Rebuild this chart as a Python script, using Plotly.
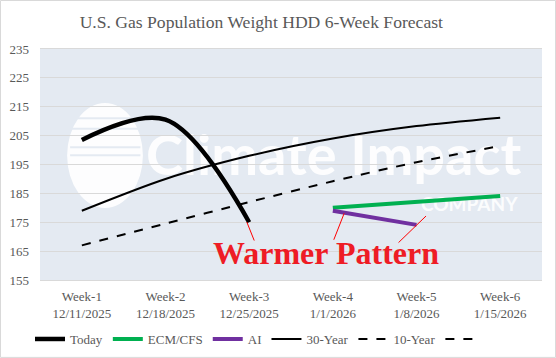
import plotly.graph_objects as go

weeks = ["Week-1", "Week-2", "Week-3", "Week-4", "Week-5", "Week-6"]
dates = ["12/11/2025", "12/18/2025", "12/25/2025", "1/1/2026", "1/8/2026", "1/15/2026"]
tick_labels = [f"{w}<br>{d}" for w, d in zip(weeks, dates)]
x_idx = list(range(len(weeks)))

today = [203.5, 210.5, 175.0, None, None, None]
ecm_cfs = [None, None, None, 180.0, 182.0, 184.1]
ai = [None, None, None, 179.0, 174.1, None]
yr30 = [179.0, 190.0, 198.0, 204.0, 208.3, 211.2]
yr10 = [167.0, 174.5, 182.0, 189.2, 195.8, 201.4]

y_ticks = list(range(155, 236, 10))

SERIF = "Liberation Serif, Times New Roman, serif"
GRAY = "#595959"
BG = "#E4EAF2"

fig = go.Figure()
fig.add_trace(go.Scatter(x=x_idx, y=today, name="Today", mode="lines",
                         line=dict(color="black", width=4.5, shape="spline", smoothing=1.0)))
fig.add_trace(go.Scatter(x=x_idx, y=ecm_cfs, name="ECM/CFS", mode="lines",
                         line=dict(color="#00B050", width=4)))
fig.add_trace(go.Scatter(x=x_idx, y=ai, name="AI", mode="lines",
                         line=dict(color="#7030A0", width=4)))
fig.add_trace(go.Scatter(x=x_idx, y=yr30, name="30-Year", mode="lines",
                         line=dict(color="black", width=2, shape="spline", smoothing=0.8)))
fig.add_trace(go.Scatter(x=x_idx, y=yr10, name="10-Year", mode="lines",
                         line=dict(color="black", width=2, dash="dash", shape="spline", smoothing=0.8)))
fig.add_trace(go.Scatter(x=[None], y=[None], name=" ", mode="lines",
                         line=dict(color="black", width=2, dash="dash")))

WM = "rgba(255,255,255,0.9)"
shapes = [
    # watermark logo ellipse
    dict(type="circle", xref="x domain", yref="y domain", x0=0.054, x1=0.205, y0=0.312, y1=0.766,
         fillcolor=WM, line=dict(width=0), layer="below"),
    # watermark text
    dict(type="rect", xref="x domain", yref="y domain", x0=0.21, x1=0.96, y0=0.42, y1=0.68,
         fillcolor="rgba(0,0,0,0)", line=dict(width=0), layer="below",
         label=dict(text="Climate Impact", textposition="middle center",
                    font=dict(family="Lato, sans-serif", size=56, weight="bold", color=WM))),
    dict(type="rect", xref="x domain", yref="y domain", x0=0.76, x1=0.95, y0=0.28, y1=0.38,
         fillcolor="rgba(0,0,0,0)", line=dict(width=0), layer="below",
         label=dict(text="COMPANY", textposition="middle center",
                    font=dict(family="Lato, sans-serif", size=19, weight="bold", color=WM))),
    # outer chart border
    dict(type="rect", xref="paper", yref="paper", x0=-0.0787, x1=1.027, y0=-0.335, y1=1.21,
         line=dict(color="#D9D9D9", width=1), fillcolor="rgba(0,0,0,0)", layer="above"),
]
# logo stripes
for yy in [0.70, 0.655, 0.575, 0.54]:
    shapes.append(dict(type="line", xref="x domain", yref="y domain", x0=0.06, x1=0.2, y0=yy, y1=yy,
                       line=dict(color=BG, width=2), layer="below"))

annotations = [
    dict(text="<b>Warmer Pattern</b>", xref="paper", yref="paper", x=0.570, y=0.117,
         showarrow=False, font=dict(family=SERIF, size=32, color="#EE1C25"),
         xanchor="center", yanchor="middle"),
]
for tx, ty, ax, ay in [(0.412, 0.251, 8, 20), (0.606, 0.289, -11, 28), (0.769, 0.277, -29, 28)]:
    annotations.append(dict(text="", xref="paper", yref="paper", x=tx, y=ty, ax=ax, ay=ay,
                            showarrow=True, arrowhead=0, arrowwidth=1, arrowcolor="#FF0000",
                            standoff=0, startstandoff=0))

fig.update_layout(
    width=556, height=358,
    margin=dict(l=40, r=14, t=49, b=78),
    paper_bgcolor="white", plot_bgcolor=BG,
    font=dict(family=SERIF, size=13, color=GRAY),
    title=dict(text="U.S. Gas Population Weight HDD 6-Week Forecast",
               x=0.470, xanchor="center", y=0.9385, yanchor="middle",
               font=dict(family=SERIF, size=17.6, color=GRAY)),
    xaxis=dict(range=[-0.5, 5.5], tickvals=x_idx, ticktext=tick_labels, showgrid=False,
               zeroline=False, showline=True, linecolor="#D9D9D9", linewidth=1, mirror=True,
               automargin=False,
               ticks="", ticklabelstandoff=4, tickfont=dict(family=SERIF, size=13, color=GRAY)),
    yaxis=dict(range=[155, 235], tickvals=y_ticks, showgrid=True, gridcolor="#D9D9D9",
               gridwidth=1, zeroline=False, showline=False, ticks="", ticklabelstandoff=10,
               automargin=False,
               tickfont=dict(family=SERIF, size=13, color=GRAY)),
    legend=dict(orientation="h", xref="container", yref="container",
                x=0.054, xanchor="left", y=0.053, yanchor="middle",
                font=dict(family=SERIF, size=13, color=GRAY), bgcolor="rgba(0,0,0,0)",
                traceorder="normal"),
    showlegend=True,
    shapes=shapes, annotations=annotations,
)

fig.write_html("out.html", config={"displayModeBar": False},
               post_script="document.body.style.margin='0';")
